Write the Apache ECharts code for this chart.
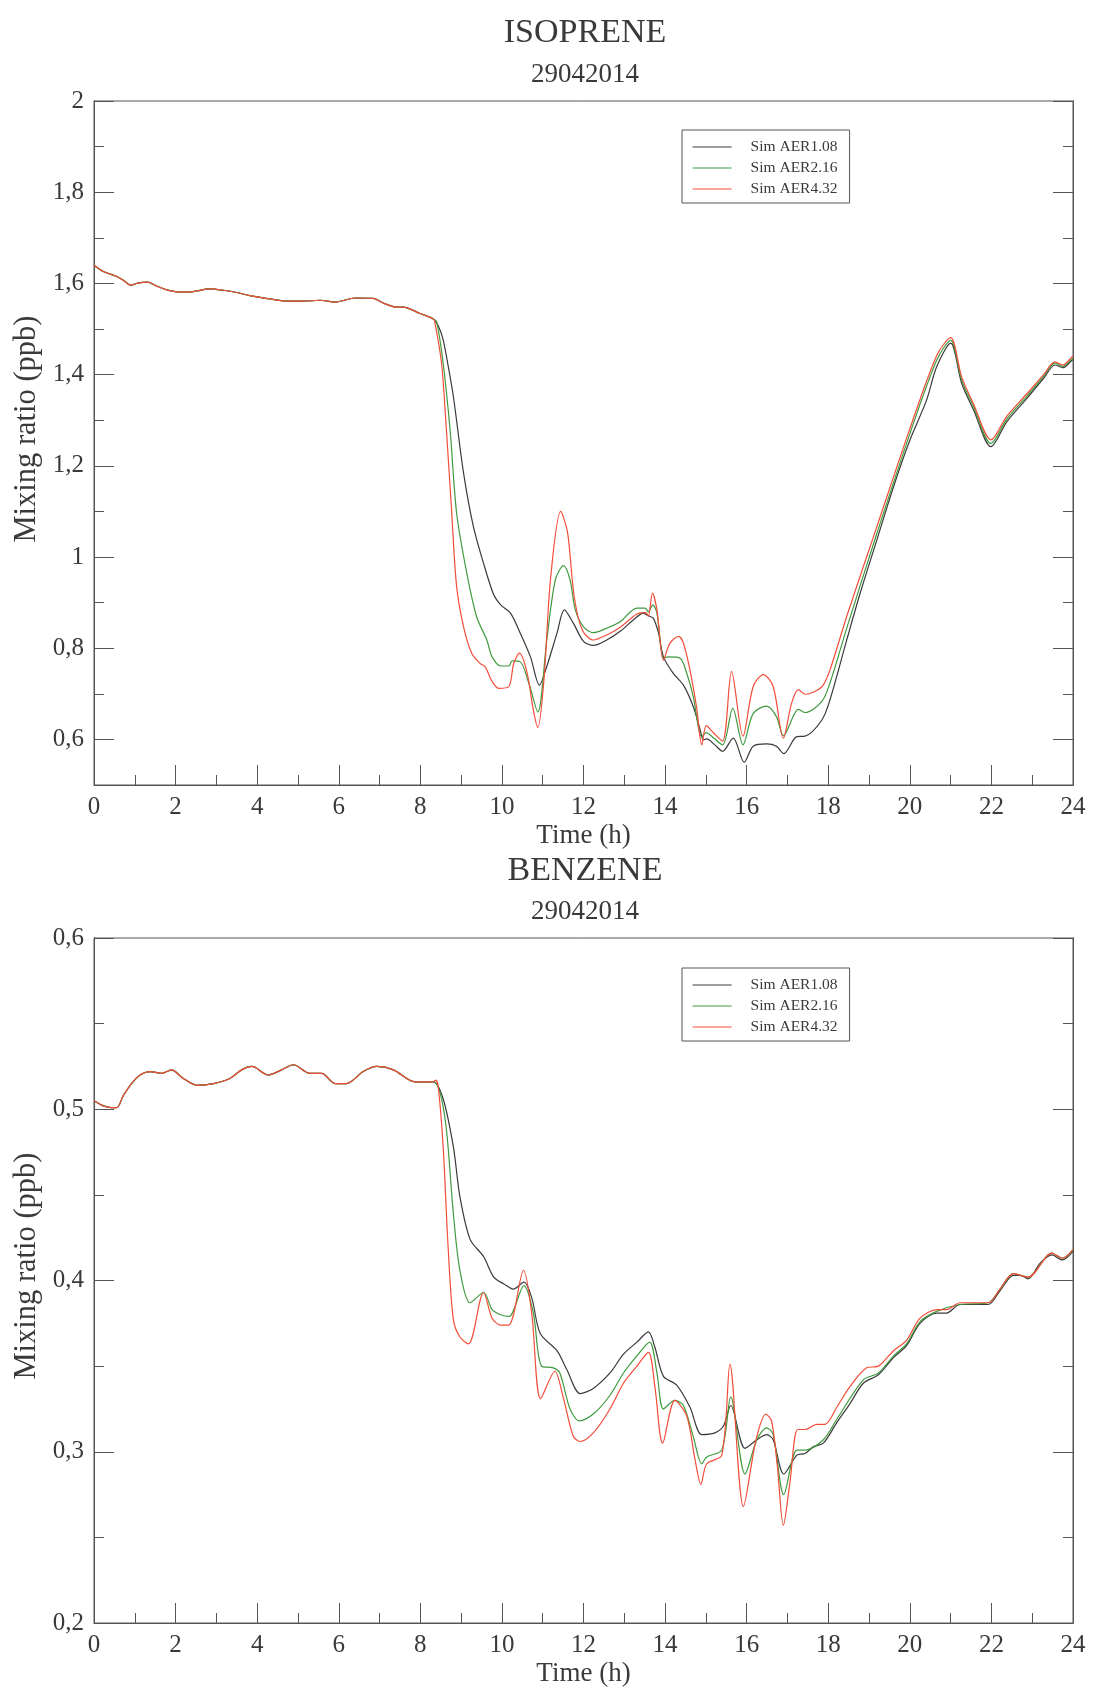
<!DOCTYPE html>
<html>
<head>
<meta charset="utf-8">
<script src="https://cdn.jsdelivr.net/npm/echarts@6/dist/echarts.min.js"></script>
<style>
html,body{margin:0;padding:0;background:#fff;}
#c{width:1096px;height:1697px;}
</style>
</head>
<body>
<div id="c"></div>
<script>
// ---------- DATA ----------
const seriesNames = ['Sim AER1.08', 'Sim AER2.16', 'Sim AER4.32'];
const xTicks = [0, 2, 4, 6, 8, 10, 12, 14, 16, 18, 20, 22, 24];

const isoMajorTicks = [0.6, 0.8, 1.0, 1.2, 1.4, 1.6, 1.8, 2.0];
const isoMinorTicks = [0.5, 0.7, 0.9, 1.1, 1.3, 1.5, 1.7, 1.9];
const benMajorTicks = [0.2, 0.3, 0.4, 0.5, 0.6];
const benMinorTicks = [0.25, 0.35, 0.45, 0.55];

// ISOPRENE: common part (all simulations identical before ~8.3 h)
const isoShared = [[0,1.640],[0.23,1.626],[0.56,1.615],[0.72,1.607],[0.90,1.596],[1.09,1.601],[1.31,1.603],[1.54,1.594],[1.86,1.584],[2.11,1.581],[2.43,1.582],[2.84,1.588],[3.17,1.585],[3.50,1.580],[3.82,1.573],[4.31,1.566],[4.80,1.561],[5.13,1.561],[5.54,1.563],[5.91,1.559],[6.40,1.568],[6.85,1.567],[7.09,1.557],[7.42,1.548],[7.58,1.548],[7.99,1.534],[8.32,1.522]];
const isoAER108 = [[8.45,1.505],[8.56,1.476],[8.68,1.42],[8.81,1.352],[9.06,1.184],[9.30,1.067],[9.55,0.986],[9.80,0.917],[9.97,0.895],[10.21,0.877],[10.45,0.833],[10.70,0.781],[10.92,0.719],[11.10,0.760],[11.35,0.833],[11.53,0.884],[11.75,0.855],[12.00,0.815],[12.24,0.806],[12.57,0.818],[12.90,0.837],[13.22,0.862],[13.47,0.877],[13.59,0.871],[13.71,0.866],[13.84,0.833],[13.96,0.781],[14.20,0.745],[14.45,0.719],[14.69,0.672],[14.86,0.621],[14.94,0.599],[15.02,0.601],[15.22,0.588],[15.41,0.574],[15.67,0.603],[15.94,0.550],[16.16,0.585],[16.49,0.590],[16.73,0.585],[16.91,0.569],[17.23,0.606],[17.43,0.607],[17.84,0.642],[18.04,0.686],[18.45,0.817],[18.78,0.920],[19.19,1.037],[19.60,1.154],[20.00,1.256],[20.41,1.344],[20.66,1.418],[21.00,1.469],[21.27,1.381],[21.56,1.323],[21.99,1.242],[22.38,1.297],[22.87,1.348],[23.28,1.392],[23.56,1.421],[23.75,1.415],[23.97,1.431],[24,1.433]];
const isoAER216 = [[8.40,1.516],[8.56,1.425],[8.73,1.278],[8.89,1.096],[9.14,0.964],[9.38,0.869],[9.63,0.818],[9.76,0.781],[9.97,0.761],[10.17,0.761],[10.25,0.772],[10.45,0.770],[10.66,0.723],[10.88,0.660],[11.10,0.818],[11.31,0.950],[11.51,0.981],[11.67,0.950],[11.80,0.884],[12.00,0.847],[12.24,0.834],[12.57,0.844],[12.90,0.858],[13.31,0.888],[13.51,0.888],[13.59,0.880],[13.70,0.895],[13.80,0.877],[13.96,0.778],[14.08,0.781],[14.37,0.778],[14.53,0.745],[14.69,0.694],[14.90,0.606],[15.01,0.615],[15.19,0.603],[15.41,0.588],[15.66,0.668],[15.91,0.588],[16.16,0.657],[16.49,0.673],[16.73,0.650],[16.90,0.608],[17.27,0.666],[17.43,0.659],[17.84,0.683],[18.04,0.723],[18.45,0.843],[19.19,1.051],[20.00,1.270],[20.66,1.432],[21.00,1.475],[21.27,1.388],[21.56,1.330],[21.99,1.249],[22.38,1.303],[22.87,1.353],[23.28,1.396],[23.56,1.425],[23.75,1.418],[23.97,1.434],[24,1.436]];
const isoAER432 = [[8.36,1.513],[8.52,1.425],[8.64,1.278],[8.77,1.096],[8.89,0.935],[9.06,0.847],[9.26,0.789],[9.46,0.767],[9.59,0.759],[9.76,0.727],[9.92,0.712],[10.17,0.716],[10.29,0.767],[10.43,0.789],[10.62,0.745],[10.77,0.664],[10.88,0.626],[11.03,0.730],[11.19,0.950],[11.44,1.100],[11.61,1.053],[11.77,0.914],[11.97,0.840],[12.24,0.818],[12.57,0.829],[12.90,0.846],[13.31,0.875],[13.53,0.878],[13.59,0.870],[13.69,0.921],[13.80,0.884],[13.96,0.774],[14.12,0.811],[14.33,0.826],[14.45,0.811],[14.61,0.752],[14.77,0.672],[14.90,0.588],[15.01,0.630],[15.19,0.614],[15.41,0.596],[15.63,0.749],[15.91,0.607],[16.16,0.716],[16.41,0.742],[16.65,0.716],[16.90,0.603],[17.10,0.679],[17.27,0.709],[17.43,0.699],[17.84,0.715],[18.04,0.752],[18.45,0.869],[19.19,1.066],[20.00,1.281],[20.66,1.442],[21.00,1.481],[21.27,1.395],[21.56,1.336],[21.99,1.257],[22.38,1.309],[22.87,1.358],[23.28,1.400],[23.56,1.428],[23.75,1.421],[23.97,1.438],[24,1.440]];

// BENZENE: common part
const benShared = [[0,0.505],[0.23,0.502],[0.43,0.501],[0.56,0.501],[0.72,0.508],[0.92,0.515],[1.13,0.520],[1.37,0.522],[1.66,0.521],[1.90,0.523],[2.19,0.518],[2.52,0.514],[2.93,0.515],[3.33,0.518],[3.62,0.523],[3.87,0.525],[4.27,0.520],[4.60,0.523],[4.89,0.526],[5.29,0.521],[5.58,0.521],[5.91,0.515],[6.19,0.515],[6.60,0.522],[6.93,0.525],[7.34,0.523],[7.87,0.516],[8.32,0.516]];
const benAER108 = [[8.56,0.506],[8.81,0.478],[8.97,0.449],[9.22,0.424],[9.55,0.414],[9.80,0.402],[10.05,0.398],[10.28,0.395],[10.54,0.399],[10.73,0.390],[10.94,0.369],[11.35,0.359],[11.59,0.348],[11.92,0.334],[12.24,0.337],[12.65,0.346],[12.98,0.357],[13.31,0.364],[13.59,0.370],[13.75,0.361],[13.96,0.344],[14.28,0.339],[14.61,0.326],[14.90,0.310],[15.22,0.311],[15.43,0.315],[15.61,0.327],[15.96,0.302],[16.25,0.307],[16.49,0.310],[16.65,0.307],[16.91,0.287],[17.23,0.298],[17.43,0.299],[17.64,0.303],[17.88,0.305],[18.21,0.317],[18.53,0.328],[18.86,0.340],[19.23,0.345],[19.60,0.355],[19.92,0.362],[20.25,0.375],[20.66,0.381],[20.90,0.381],[21.23,0.386],[21.56,0.386],[21.92,0.386],[22.21,0.394],[22.54,0.403],[22.70,0.403],[22.90,0.401],[23.19,0.410],[23.48,0.415],[23.74,0.412],[24,0.417]];
const benAER216 = [[8.48,0.510],[8.64,0.488],[8.81,0.439],[8.97,0.406],[9.22,0.387],[9.55,0.393],[9.76,0.383],[9.97,0.380],[10.17,0.379],[10.54,0.397],[10.77,0.381],[10.97,0.350],[11.26,0.349],[11.42,0.346],[11.67,0.325],[11.90,0.318],[12.24,0.322],[12.65,0.333],[12.98,0.346],[13.31,0.356],[13.62,0.364],[13.80,0.346],[13.96,0.325],[14.24,0.330],[14.45,0.327],[14.69,0.309],[14.90,0.293],[15.02,0.297],[15.39,0.301],[15.61,0.332],[15.96,0.287],[16.25,0.307],[16.49,0.314],[16.65,0.310],[16.91,0.275],[17.23,0.301],[17.43,0.301],[17.88,0.307],[18.21,0.319],[18.86,0.342],[19.23,0.346],[19.60,0.356],[19.92,0.363],[20.25,0.376],[20.66,0.382],[21.23,0.386],[21.92,0.387],[22.21,0.395],[22.54,0.404],[22.90,0.402],[23.48,0.416],[23.74,0.413],[24,0.418]];
const benAER432 = [[8.38,0.517],[8.44,0.513],[8.56,0.478],[8.68,0.420],[8.81,0.377],[8.97,0.367],[9.18,0.363],[9.55,0.393],[9.76,0.378],[9.97,0.374],[10.17,0.374],[10.53,0.406],[10.73,0.381],[10.95,0.331],[11.30,0.347],[11.50,0.332],[11.75,0.309],[11.92,0.306],[12.24,0.311],[12.65,0.325],[12.98,0.340],[13.31,0.350],[13.59,0.358],[13.75,0.338],[13.94,0.305],[14.24,0.330],[14.53,0.321],[14.73,0.296],[14.88,0.281],[15.02,0.293],[15.39,0.298],[15.59,0.351],[15.92,0.268],[16.23,0.307],[16.47,0.322],[16.61,0.318],[16.75,0.292],[16.90,0.257],[17.06,0.282],[17.25,0.313],[17.43,0.313],[17.72,0.316],[17.92,0.316],[18.21,0.326],[18.53,0.338],[18.94,0.349],[19.23,0.350],[19.60,0.359],[19.92,0.365],[20.25,0.378],[20.66,0.383],[20.90,0.383],[21.23,0.387],[21.92,0.387],[22.21,0.395],[22.54,0.404],[22.90,0.402],[23.48,0.416],[23.74,0.413],[24,0.418]];

// ---------- STYLE ----------
const FONT = 'Liberation Serif';
const TXT = '#3a3a3a';
const AX = '#555';
const COLORS = ['#3a3a3a', '#3f9a3f', '#f24d38'];

const grids = [
  { left: 94, right: 23, top: 101, height: 684 },
  { left: 94, right: 23, top: 938, height: 685 }
];

function fmt(v) { return String(+(+v).toFixed(2)).replace('.', ','); }

function xAxisFor(gi) {
  return {
    type: 'value', gridIndex: gi, min: 0, max: 24, interval: 2,
    axisLine: { show: true, lineStyle: { color: AX, width: 1 } },
    axisTick: { show: true, inside: true, length: 20, lineStyle: { color: AX } },
    minorTick: { show: true, splitNumber: 2, length: 10, lineStyle: { color: AX } },
    splitLine: { show: false }, minorSplitLine: { show: false },
    axisLabel: { margin: 10, fontFamily: FONT, fontSize: 25, color: TXT,
      customValues: xTicks, formatter: v => String(v) },
    name: 'Time (h)', nameLocation: 'middle', nameGap: 37,
    nameTextStyle: { fontFamily: FONT, fontSize: 27, color: TXT }
  };
}

function yAxesFor(gi, min, max, major, minor) {
  const base = { type: 'value', gridIndex: gi, min: min, max: max, splitLine: { show: false } };
  const mk = (pos, ticks, len, labels) => Object.assign({}, base, {
    position: pos,
    axisLine: { show: true, lineStyle: { color: AX, width: 1 } },
    axisTick: { show: true, inside: true, length: len, customValues: ticks, lineStyle: { color: AX } },
    axisLabel: labels ? { show: true, margin: 10, fontFamily: FONT, fontSize: 25, color: TXT,
      customValues: ticks, formatter: fmt } : { show: false }
  });
  return [mk('left', major, 20, true), mk('left', minor, 10, false),
          mk('right', major, 20, false), mk('right', minor, 10, false)];
}

function lineSeries(name, data, gi, color) {
  return {
    type: 'line', name: name, data: data, xAxisIndex: gi, yAxisIndex: gi * 4,
    symbol: 'none', showSymbol: false, smooth: 0.3,
    lineStyle: { color: color, width: 1.2 }, itemStyle: { color: color },
    animation: false, z: 3
  };
}

function legendAt(top) {
  return {
    orient: 'vertical', left: 682, top: top,
    data: seriesNames,
    backgroundColor: '#fff', borderColor: AX, borderWidth: 1, borderRadius: 0,
    padding: [9, 12, 6, 10], itemWidth: 39, itemHeight: 14, itemGap: 5,
    selectedMode: false,
    itemStyle: { opacity: 0, borderWidth: 0 },
    lineStyle: { width: 1.2 },
    textStyle: { fontFamily: FONT, fontSize: 15.5, color: TXT, padding: [0, 0, 0, 14] }
  };
}

const option = {
  backgroundColor: '#fff',
  animation: false,
  textStyle: { fontFamily: FONT },
  title: [
    { text: 'ISOPRENE', left: 580, top: 11, textAlign: 'center',
      textStyle: { fontFamily: FONT, fontSize: 34, fontWeight: 'normal', color: TXT } },
    { text: '29042014', left: 580, top: 56, textAlign: 'center',
      textStyle: { fontFamily: FONT, fontSize: 27, fontWeight: 'normal', color: TXT } },
    { text: 'BENZENE', left: 580, top: 849, textAlign: 'center',
      textStyle: { fontFamily: FONT, fontSize: 34, fontWeight: 'normal', color: TXT } },
    { text: '29042014', left: 580, top: 893, textAlign: 'center',
      textStyle: { fontFamily: FONT, fontSize: 27, fontWeight: 'normal', color: TXT } }
  ],
  graphic: [
    { type: 'text', x: 27, y: 429, rotation: Math.PI / 2,
      style: { text: 'Mixing ratio (ppb)', fontFamily: FONT, fontSize: 30.5, fill: TXT,
        align: 'center', verticalAlign: 'middle' } },
    { type: 'text', x: 27, y: 1266, rotation: Math.PI / 2,
      style: { text: 'Mixing ratio (ppb)', fontFamily: FONT, fontSize: 30.5, fill: TXT,
        align: 'center', verticalAlign: 'middle' } }
  ],
  legend: [legendAt(130), legendAt(968)],
  grid: grids.map(g => Object.assign({ show: true, borderColor: AX, borderWidth: 1, backgroundColor: 'transparent' }, g)),
  xAxis: [xAxisFor(0), xAxisFor(1)],
  yAxis: yAxesFor(0, 0.5, 2, isoMajorTicks, isoMinorTicks)
    .concat(yAxesFor(1, 0.2, 0.6, benMajorTicks, benMinorTicks)),
  series: [
    lineSeries(seriesNames[0], isoShared.concat(isoAER108), 0, COLORS[0]),
    lineSeries(seriesNames[1], isoShared.concat(isoAER216), 0, COLORS[1]),
    lineSeries(seriesNames[2], isoShared.concat(isoAER432), 0, COLORS[2]),
    lineSeries(seriesNames[0], benShared.concat(benAER108), 1, COLORS[0]),
    lineSeries(seriesNames[1], benShared.concat(benAER216), 1, COLORS[1]),
    lineSeries(seriesNames[2], benShared.concat(benAER432), 1, COLORS[2])
  ]
};

const chart = echarts.init(document.getElementById('c'), null, { renderer: 'canvas' });
chart.setOption(option);
</script>
</body>
</html>
